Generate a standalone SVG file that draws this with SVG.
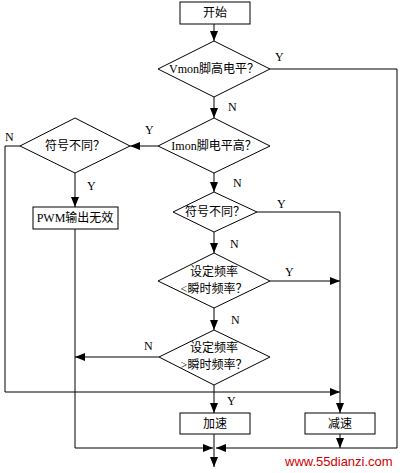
<svg xmlns="http://www.w3.org/2000/svg" width="400" height="473" viewBox="0 0 400 473">
<defs>
<marker id="ah" viewBox="0 0 10 8" refX="10" refY="4" markerWidth="10" markerHeight="8" markerUnits="userSpaceOnUse" orient="auto">
<path d="M0,0 L10,4 L0,8 Z" fill="#000"/>
</marker>
</defs>
<style>
.n{fill:#fff;stroke:#000;stroke-width:1}
.c{fill:none;stroke:#000;stroke-width:1}
.t{font-family:"Liberation Serif","Noto Sans CJK SC",serif;font-size:12px;fill:#000;text-anchor:middle}
.l{font-family:"Liberation Serif",serif;font-size:12px;fill:#000}
.w{font-family:"Liberation Sans",sans-serif;font-size:13px;fill:#d00000}
</style>
<rect width="400" height="473" fill="#fff"/>
<g id="connectors">
<path class="c" d="M214,24 V41" marker-end="url(#ah)"/>
<path class="c" d="M214,97 V118" marker-end="url(#ah)"/>
<path class="c" d="M270,69 H397 V448 H216" marker-end="url(#ah)"/>
<path class="c" d="M158,146 H130" marker-end="url(#ah)"/>
<path class="c" d="M20,146 H5 V392 H340" marker-end="url(#ah)"/>
<path class="c" d="M75,173 V207" marker-end="url(#ah)"/>
<path class="c" d="M75,229 V448 H213" marker-end="url(#ah)"/>
<path class="c" d="M214,173 V192" marker-end="url(#ah)"/>
<path class="c" d="M257,212 H340 V413" marker-end="url(#ah)"/>
<path class="c" d="M214,232 V253" marker-end="url(#ah)"/>
<path class="c" d="M270,281 H340" marker-end="url(#ah)"/>
<path class="c" d="M214,308 V330" marker-end="url(#ah)"/>
<path class="c" d="M159,357 H75" marker-end="url(#ah)"/>
<path class="c" d="M214,385 V413" marker-end="url(#ah)"/>
<path class="c" d="M340,434 V448" marker-end="url(#ah)"/>
<path class="c" d="M214,434 V467" marker-end="url(#ah)"/>
<text class="l" x="275" y="61">Y</text>
<text class="l" x="228" y="111">N</text>
<text class="l" x="145" y="134">Y</text>
<text class="l" x="5" y="141">N</text>
<text class="l" x="87" y="190">Y</text>
<text class="l" x="233" y="187">N</text>
<text class="l" x="277" y="208">Y</text>
<text class="l" x="230" y="248">N</text>
<text class="l" x="285" y="276">Y</text>
<text class="l" x="231" y="324">N</text>
<text class="l" x="144" y="350">N</text>
<text class="l" x="227" y="405">Y</text>
</g>
<g id="start"><rect class="n" x="180" y="2" width="70" height="22"/><text class="t" x="215" y="17">开始</text></g>
<g id="vmon"><polygon class="n" points="214,41 270,69 214,97 158,69"/><text class="t" x="214" y="73">Vmon脚高电平？</text></g>
<g id="imon"><polygon class="n" points="214,118 270,146 214,173 158,146"/><text class="t" x="214" y="150">Imon脚电平高？</text></g>
<g id="sign1"><polygon class="n" points="75,118 130,146 75,173 20,146"/><text class="t" x="75" y="150">符号不同？</text></g>
<g id="pwm"><rect class="n" x="33" y="207" width="85" height="22"/><text class="t" x="75" y="222">PWM输出无效</text></g>
<g id="sign2"><polygon class="n" points="214,192 257,212 214,232 173,212"/><text class="t" x="215" y="216">符号不同？</text></g>
<g id="lt"><polygon class="n" points="214,253 270,281 214,308 158,281"/><text class="t" x="214" y="276">设定频率</text><text class="t" x="214" y="293">&lt;瞬时频率？</text></g>
<g id="gt"><polygon class="n" points="214,330 270,357 214,385 159,357"/><text class="t" x="214" y="352">设定频率</text><text class="t" x="214" y="369">&gt;瞬时频率？</text></g>
<g id="acc"><rect class="n" x="180" y="413" width="70" height="21"/><text class="t" x="215" y="428">加速</text></g>
<g id="dec"><rect class="n" x="305" y="413" width="70" height="21"/><text class="t" x="340" y="428">减速</text></g>
<text class="w" x="285" y="466">www.55dianzi.com</text>
</svg>
